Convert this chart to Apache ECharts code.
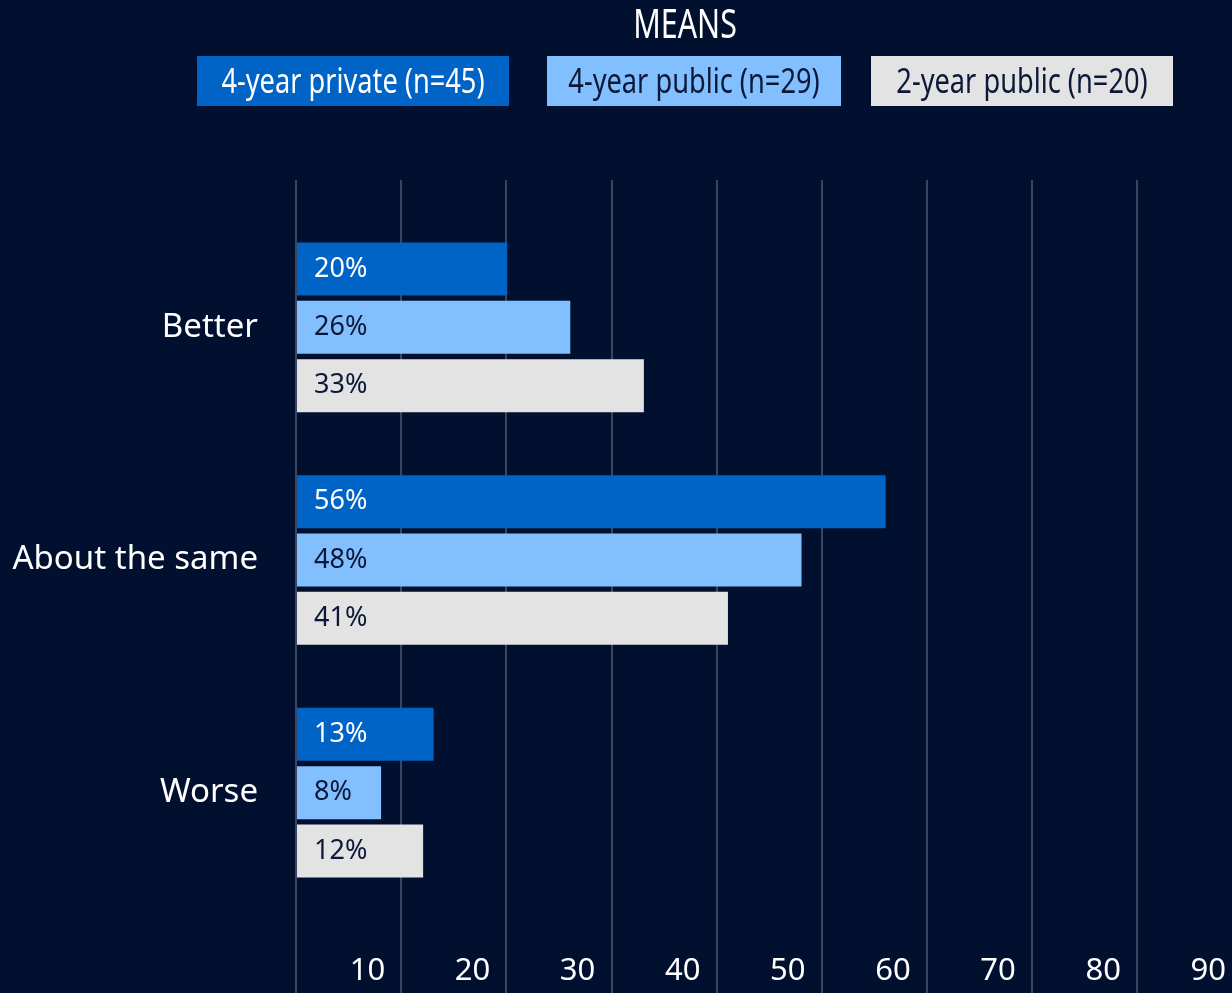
<!DOCTYPE html>
<html>
<head>
<meta charset="utf-8">
<script src="https://cdn.jsdelivr.net/npm/echarts@6/dist/echarts.min.js"></script>
<style>
  html, body { margin: 0; padding: 0; background: #00102e; }
  #chart { width: 1232px; height: 993px; }
</style>
</head>
<body>
<div id="chart"></div>
<script>
// data
const categories = ['Better', 'About the same', 'Worse'];
const seriesNames = ['4-year private (n=45)', '4-year public (n=29)', '2-year public (n=20)'];
const privateFour = [20, 56, 13];
const publicFour = [26, 48, 8];
const publicTwo = [33, 41, 12];
const xMin = 0, xMax = 90, xStep = 10;

const colors = ['#0063c6', '#82bfff', '#e3e3e3'];
const labelColors = ['#ffffff', '#0b1838', '#0b1838'];
const sans = '"Noto Sans", "Open Sans", sans-serif';

// legend boxes: [left, width]
const legendBoxes = [[197, 312], [547, 294], [871, 302]];

const chart = echarts.init(document.getElementById('chart'));

// the reference uses a narrow face, so the text is squeezed a bit
function legendBox(i) {
    return {
        type: 'group',
        x: legendBoxes[i][0],
        y: 56,
        children: [
            {
                type: 'rect',
                shape: { x: 0, y: 0, width: legendBoxes[i][1], height: 50 },
                style: { fill: colors[i] }
            },
            {
                type: 'text',
                x: legendBoxes[i][1] / 2,
                y: 27,
                scaleX: 0.8,
                style: {
                    text: seriesNames[i],
                    fill: labelColors[i],
                    font: '34px "Noto Sans"',
                    textAlign: 'center',
                    textVerticalAlign: 'middle'
                }
            }
        ]
    };
}

const valueData = [privateFour, publicFour, publicTwo];

chart.setOption({
    backgroundColor: '#00102e',
    graphic: [
        {
            type: 'text',
            x: 685,
            y: 27,
            scaleX: 0.76,
            style: {
                text: 'MEANS',
                fill: '#ffffff',
                font: '40px "Noto Sans"',
                textAlign: 'center',
                textVerticalAlign: 'middle'
            }
        },
        legendBox(0), legendBox(1), legendBox(2)
    ],
    grid: [
        // bars
        { left: 297, width: 946, top: 211, height: 698, outerBoundsMode: 'none' },
        // grid lines + axis labels
        { left: 296, width: 946, top: 180, bottom: 0, outerBoundsMode: 'none' }
    ],
    xAxis: [
        {
            gridIndex: 0, type: 'value', min: xMin, max: xMax, interval: xStep,
            axisLine: { show: false }, axisTick: { show: false },
            axisLabel: { show: false }, splitLine: { show: false }
        },
        {
            gridIndex: 1, type: 'value', min: xMin, max: xMax, interval: xStep,
            axisLine: { show: false }, axisTick: { show: false },
            splitLine: { lineStyle: { color: '#3a4560', width: 2 } },
            axisLabel: {
                inside: true,
                margin: 6,
                align: 'right',
                padding: [0, 16, 0, 0],
                color: '#ffffff',
                fontFamily: sans,
                fontSize: 31,
                formatter: v => (v === 0 ? '' : String(v))
            }
        }
    ],
    yAxis: [
        {
            gridIndex: 0, type: 'category', data: categories, inverse: true,
            axisLine: { show: false }, axisTick: { show: false },
            axisLabel: { color: '#ffffff', fontFamily: sans, fontSize: 33, margin: 39 }
        },
        {
            gridIndex: 1, type: 'value', show: false
        }
    ],
    series: valueData.map((vals, i) => ({
        name: seriesNames[i],
        type: 'bar',
        xAxisIndex: 0,
        yAxisIndex: 0,
        data: vals,
        barWidth: 53,
        barGap: '10%',
        itemStyle: { color: colors[i] },
        label: {
            show: true,
            position: 'insideLeft',
            distance: 17,
            formatter: '{c}%',
            color: labelColors[i],
            fontFamily: sans,
            fontSize: 27
        }
    }))
});
</script>
</body>
</html>
